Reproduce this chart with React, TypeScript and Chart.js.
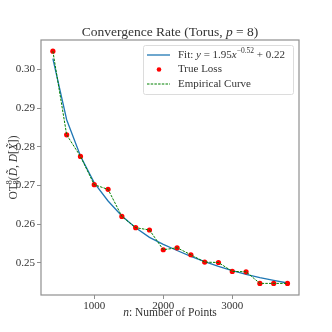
import React, { useEffect, useRef } from "react";
import { Chart, registerables } from "chart.js";

Chart.register(...registerables);

const nPoints = [400, 600, 800, 1000, 1200, 1400, 1600, 1800, 2000, 2200, 2400, 2600, 2800, 3000, 3200, 3400, 3600, 3800];
const trueLoss = [0.3047, 0.2831, 0.2775, 0.2702, 0.2690, 0.2620, 0.2591, 0.2585, 0.2534, 0.2539, 0.2521, 0.2502, 0.2501, 0.2478, 0.2477, 0.2447, 0.2447, 0.2447];
const fitValues = [0.3028, 0.2870, 0.2776, 0.2707, 0.2660, 0.2621, 0.2591, 0.2566, 0.2548, 0.2532, 0.2517, 0.2503, 0.2491, 0.2480, 0.2470, 0.2462, 0.2455, 0.2448];
const xTickValues = [1000, 2000, 3000];
const yTickValues = [0.25, 0.26, 0.27, 0.28, 0.29, 0.3];

const SERIF = "'Liberation Serif', 'DejaVu Serif', serif";
const FRAME = "#8f8f8f";
const TXT = "#333333";

type Piece = { t: string; italic?: boolean; size?: number; dy?: number; advance?: boolean };

function drawPieces(ctx: CanvasRenderingContext2D, pieces: Piece[], baseSize: number, x: number, y: number, align: "left" | "center") {
  const widths = pieces.map((p) => {
    ctx.font = `${p.italic ? "italic " : ""}${p.size ?? baseSize}px ${SERIF}`;
    return p.advance === false ? 0 : ctx.measureText(p.t).width;
  });
  const total = widths.reduce((a, b) => a + b, 0);
  let cx = align === "center" ? x - total / 2 : x;
  pieces.forEach((p, i) => {
    ctx.font = `${p.italic ? "italic " : ""}${p.size ?? baseSize}px ${SERIF}`;
    ctx.fillText(p.t, cx, y + (p.dy ?? 0));
    cx += widths[i];
  });
}

const customPlugin = {
  id: "customDecor",
  afterDraw(chart: any) {
    const ctx: CanvasRenderingContext2D = chart.ctx;
    const ca = chart.chartArea;
    ctx.save();
    // frame
    ctx.strokeStyle = FRAME;
    ctx.lineWidth = 1.2;
    ctx.strokeRect(ca.left, ca.top, ca.right - ca.left, ca.bottom - ca.top);

    ctx.fillStyle = TXT;
    ctx.textBaseline = "middle";
    ctx.textAlign = "left";
    const cx = (ca.left + ca.right) / 2;
    // title
    drawPieces(ctx, [
      { t: "Convergence Rate (Torus, " },
      { t: "p", italic: true },
      { t: " = 8)" },
    ], 13.5, cx, 32, "center");
    // x label
    drawPieces(ctx, [
      { t: "n", italic: true },
      { t: ": Number of Points" },
    ], 11.5, cx, 313, "center");
    // y label
    ctx.save();
    ctx.translate(14, (ca.top + ca.bottom) / 2);
    ctx.rotate(-Math.PI / 2);
    drawPieces(ctx, [
      { t: "OT" },
      { t: "8", size: 8, dy: -4, advance: false },
      { t: "8", size: 8, dy: 3 },
      { t: "(" },
      { t: "D\u0303", italic: true },
      { t: ", " },
      { t: "D", italic: true },
      { t: "[" },
      { t: "X\u0303", italic: true },
      { t: "])" },
    ], 11.5, 0, 0, "center");
    ctx.restore();

    // legend
    const lx = 143, ly = 45, lw = 150, lh = 49;
    ctx.fillStyle = "rgba(255,255,255,0.85)";
    ctx.strokeStyle = "#dcdcdc";
    ctx.lineWidth = 1;
    ctx.beginPath();
    (ctx as any).roundRect(lx + 0.5, ly + 0.5, lw, lh, 2);
    ctx.fill();
    ctx.stroke();

    const rows = [55, 69.5, 84];
    // blue line
    ctx.strokeStyle = "#1f77b4";
    ctx.lineWidth = 1.3;
    ctx.beginPath();
    ctx.moveTo(147, rows[0]);
    ctx.lineTo(170, rows[0]);
    ctx.stroke();
    // red dot
    ctx.fillStyle = "#ff0000";
    ctx.beginPath();
    ctx.arc(159, rows[1], 2.3, 0, Math.PI * 2);
    ctx.fill();
    // green dashed
    ctx.strokeStyle = "#008000";
    ctx.lineWidth = 1;
    ctx.setLineDash([2.5, 1.2]);
    ctx.beginPath();
    ctx.moveTo(147, rows[2]);
    ctx.lineTo(170, rows[2]);
    ctx.stroke();
    ctx.setLineDash([]);

    ctx.fillStyle = TXT;
    drawPieces(ctx, [
      { t: "Fit: " },
      { t: "y", italic: true },
      { t: " = 1.95" },
      { t: "x", italic: true },
      { t: "\u22120.52", size: 7.5, dy: -4 },
      { t: " + 0.22" },
    ], 11, 178, rows[0], "left");
    drawPieces(ctx, [{ t: "True Loss" }], 11, 178, rows[1], "left");
    drawPieces(ctx, [{ t: "Empirical Curve" }], 11, 178, rows[2], "left");
    ctx.restore();
  },
};

export default function App() {
  const canvasRef = useRef<HTMLCanvasElement | null>(null);

  useEffect(() => {
    if (!canvasRef.current) return;
    const fitData = nPoints.map((n, i) => ({ x: n, y: fitValues[i] }));
    const lossData = nPoints.map((n, i) => ({ x: n, y: trueLoss[i] }));
    const chart = new Chart(canvasRef.current, {
      type: "line",
      data: {
        datasets: [
          {
            label: "Empirical Curve",
            data: lossData,
            borderColor: "#008000",
            borderWidth: 1,
            borderDash: [2.5, 1.2],
            pointRadius: 0,
            fill: false,
            tension: 0,
            order: 0,
          },
          {
            label: "True Loss",
            data: lossData,
            showLine: false,
            pointRadius: 2.6,
            pointBackgroundColor: "#ff0000",
            pointBorderColor: "#ff0000",
            pointBorderWidth: 0,
            order: 1,
          },
          {
            label: "Fit",
            data: fitData,
            borderColor: "#1f77b4",
            borderWidth: 1.3,
            pointRadius: 0,
            fill: false,
            tension: 0,
            order: 2,
          },
        ],
      },
      options: {
        animation: false,
        responsive: false,
        maintainAspectRatio: false,
        layout: { padding: { top: 40, right: 33, left: 0, bottom: 0 } },
        plugins: {
          legend: { display: false },
          title: { display: false },
          tooltip: { enabled: false },
        },
        scales: {
          x: {
            type: "linear",
            min: 228,
            max: 3967,
            afterBuildTicks: (scale: any) => {
              scale.ticks = xTickValues.map((v) => ({ value: v }));
            },
            afterFit: (scale: any) => {
              scale.height = 37;
            },
            grid: { display: true, drawOnChartArea: false, drawTicks: true, tickLength: 4, color: FRAME, lineWidth: 1 },
            border: { display: false },
            ticks: {
              color: TXT,
              font: { family: SERIF, size: 11 },
              padding: 1,
              maxRotation: 0,
              callback: (v: any) => String(v),
            },
          },
          y: {
            type: "linear",
            min: 0.2417,
            max: 0.3076,
            afterBuildTicks: (scale: any) => {
              scale.ticks = yTickValues.map((v) => ({ value: v }));
            },
            afterFit: (scale: any) => {
              scale.width = 41;
            },
            grid: { display: true, drawOnChartArea: false, drawTicks: true, tickLength: 4, color: FRAME, lineWidth: 1 },
            border: { display: false },
            ticks: {
              color: TXT,
              font: { family: SERIF, size: 11 },
              padding: 2,
              callback: (v: any) => Number(v).toFixed(2),
            },
          },
        },
      },
      plugins: [customPlugin],
    });
    return () => chart.destroy();
  }, []);

  return (
    <div style={{ position: "absolute", left: 0, top: 0, width: 332, height: 332, background: "#fff" }}>
      <canvas ref={canvasRef} width={332} height={332} style={{ width: 332, height: 332 }} />
    </div>
  );
}
